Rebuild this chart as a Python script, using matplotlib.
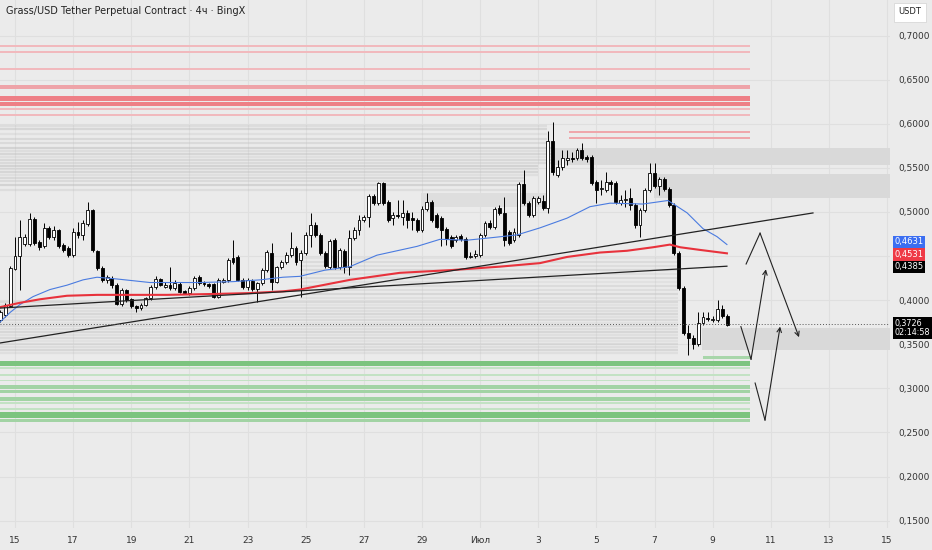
import numpy as np
import pandas as pd
import matplotlib
matplotlib.use('Agg')
import matplotlib.pyplot as plt

plt.rcParams['font.family'] = ['Liberation Sans Narrow', 'DejaVu Sans']

# 4h candles, GRASS/USDT perp, from 14 Jun 12:00
O = [.378,.383,.393,.435,.450,.464,.464,.492,.466,.461,
     .482,.472,.480,.463,.459,.451,.477,.474,.486,.502,
     .456,.437,.423,.425,.417,.396,.412,.401,.393,.391,
     .395,.403,.415,.424,.415,.417,.414,.418,.410,.408,
     .414,.426,.420,.418,.418,.404,.421,.423,.448,.449,
     .423,.415,.422,.413,.420,.434,.454,.421,.438,.443,
     .451,.459,.446,.454,.474,.485,.474,.454,.438,.468,
     .438,.456,.438,.471,.480,.491,.494,.518,.510,.533,
     .511,.493,.497,.494,.499,.493,.491,.480,.503,.511,
     .497,.493,.481,.472,.468,.473,.469,.449,.450,.451,
     .474,.488,.483,.505,.499,.477,.468,.474,.532,.510,
     .497,.511,.513,.505,.581,.542,.551,.559,.561,.561,
     .570,.562,.562,.534,.526,.525,.534,.533,.510,.514,
     .516,.508,.485,.502,.525,.544,.530,.537,.526,.508,
     .454,.414,.363,.357,.350,.374,.380,.378,.378,.390,
     .382]
H = [.389,.397,.439,.472,.491,.475,.499,.494,.468,.488,
     .484,.484,.481,.465,.461,.482,.489,.491,.511,.503,
     .457,.439,.429,.427,.420,.414,.413,.403,.395,.397,
     .404,.417,.427,.425,.421,.438,.423,.421,.412,.416,
     .427,.429,.422,.420,.420,.425,.425,.448,.468,.451,
     .425,.425,.424,.421,.437,.457,.465,.439,.446,.455,
     .477,.461,.457,.477,.499,.489,.476,.456,.469,.471,
     .459,.458,.480,.483,.497,.497,.520,.520,.534,.534,
     .514,.500,.514,.514,.502,.500,.493,.507,.522,.514,
     .499,.496,.483,.474,.474,.475,.472,.455,.457,.476,
     .490,.491,.506,.508,.517,.480,.482,.534,.548,.513,
     .518,.518,.519,.592,.602,.559,.570,.570,.568,.573,
     .578,.565,.565,.536,.536,.545,.536,.535,.519,.525,
     .527,.510,.505,.527,.556,.556,.540,.540,.528,.510,
     .456,.416,.372,.361,.386,.387,.386,.382,.400,.395,
     .384]
L = [.375,.381,.392,.434,.412,.461,.461,.463,.457,.459,
     .469,.468,.459,.455,.449,.449,.471,.468,.484,.455,
     .434,.421,.420,.414,.395,.393,.398,.391,.387,.389,
     .393,.400,.413,.416,.414,.412,.412,.408,.407,.406,
     .412,.417,.416,.414,.403,.403,.420,.421,.441,.422,
     .413,.412,.410,.398,.417,.432,.412,.420,.435,.441,
     .449,.440,.404,.451,.460,.472,.451,.437,.435,.435,
     .435,.431,.429,.468,.474,.489,.483,.508,.508,.508,
     .489,.485,.493,.485,.482,.480,.477,.477,.501,.489,
     .482,.461,.463,.459,.466,.467,.447,.448,.448,.449,
     .472,.481,.481,.497,.461,.463,.466,.472,.508,.494,
     .494,.509,.502,.499,.542,.540,.548,.553,.557,.559,
     .559,.557,.531,.510,.519,.523,.519,.509,.508,.506,
     .502,.482,.472,.500,.523,.527,.519,.524,.506,.451,
     .412,.361,.338,.345,.348,.372,.376,.375,.375,.380,
     .371]
C = [.386,.395,.437,.450,.472,.472,.492,.465,.460,.482,
     .472,.480,.461,.457,.451,.477,.474,.488,.502,.457,
     .437,.423,.426,.417,.396,.412,.400,.393,.391,.395,
     .403,.415,.424,.417,.417,.414,.420,.409,.408,.414,
     .425,.420,.418,.416,.404,.423,.423,.446,.443,.423,
     .415,.423,.413,.420,.434,.455,.421,.438,.443,.451,
     .459,.443,.454,.474,.485,.474,.454,.439,.467,.438,
     .457,.438,.471,.480,.491,.494,.518,.510,.533,.510,
     .491,.497,.496,.499,.491,.491,.480,.503,.511,.491,
     .483,.480,.471,.461,.472,.469,.449,.450,.452,.474,
     .488,.483,.503,.499,.468,.465,.477,.532,.510,.497,
     .516,.516,.505,.581,.545,.551,.561,.561,.560,.570,
     .561,.560,.533,.525,.527,.534,.532,.511,.514,.515,
     .508,.485,.502,.525,.544,.530,.537,.526,.508,.454,
     .414,.363,.357,.350,.374,.381,.379,.378,.390,.382,
     .372]

# moving averages (days from 15 Jun, price)
blue_x = [-0.52,-0.17,0.17,0.62,1.20,1.79,2.34,2.82,3.51,4.64,6.36,7.50,8.43,9.22,9.80,
          10.66,11.52,12.45,13.83,14.62,15.55,16.44,17.27,18.06,18.99,19.78,20.47,21.60,
          22.46,22.70,23.12,23.67,24.15,24.49]
blue_y = [.375,.386,.395,.404,.412,.417,.423,.426,.424,.420,.420,.421,.423,.426,.427,
          .434,.438,.451,.461,.469,.468,.471,.474,.482,.493,.506,.510,.509,
          .513,.508,.499,.481,.472,.4631]
red_x = [-0.52,0.17,0.86,1.79,2.82,5.23,6.81,8.08,9.22,9.80,11.52,13.24,14.96,16.68,
         18.06,18.99,20.12,21.05,21.95,22.53,22.88,23.56,24.49]
red_y = [.392,.397,.401,.405,.406,.406,.407,.408,.410,.412,.423,.431,.434,.438,
         .442,.449,.454,.456,.460,.463,.460,.457,.4531]

# trend lines
trend_up_x = [-0.52, 27.45]
trend_up_y = [0.3514, 0.4989]
trend_flat_x = [-0.52, 24.49]
trend_flat_y = [0.3910, 0.4385]

# supply / demand zones (top, bottom)
red_strong = [(0.6318, 0.6258), (0.6252, 0.6200)]
red_mid = [(0.6440, 0.6395)]
red_light = [(0.6895, 0.6872), (0.6823, 0.6801), (0.6630, 0.6607), (0.6180, 0.6160), (0.6112, 0.6092)]
red_short = [(0.5915, 0.5897), (0.5847, 0.5829)]
green_strong = [(0.3305, 0.3250), (0.2735, 0.2660)]
green_mid = [(0.3040, 0.2990), (0.2983, 0.2945), (0.2904, 0.2855), (0.2655, 0.2615)]
green_light = [(0.3240, 0.3222), (0.3160, 0.3144), (0.3095, 0.3079), (0.2840, 0.2826), (0.2772, 0.2758)]
green_short = [(0.3367, 0.3333)]

# liquidity stripes
heat_top = [.5975,.5941,.5884,.5828,.5782,.5726,.5692,.5658,.5624,.5590,.5556,
            .5522,.5488,.5454,.5420,.5386,.5352,.5306,.5250]
heat_top_end = [18.3,18.3,18.3,18.3,18.3,18.5,18.5,18.5,18.5,18.5,18.5,
                18.0,18.0,18.0,18.0,17.5,17.5,17.4,17.4]
heat_low = [.4478,.4433,.4388,.4342,.4297,.4252,.4206,.4161,.4116,.4070,.4025,
            .3979,.3945,.3911,.3877,.3843,.3809,.3775,.3741,.3707,.3673,.3639,
            .3605,.3571,.3537,.3503,.3469,.3435,.3401]
boxes = [(18.51, 0.5533, 0.5726), (21.98, 0.5159, 0.5431), (23.63, 0.3435, 0.3684)]

# projected path drawn on the chart
path_a = ([25.15, 25.63, 26.97], [0.441, 0.476, 0.358])
path_b = ([24.97, 25.32, 25.83], [0.370, 0.333, 0.435])
path_c = ([25.46, 25.80, 26.32], [0.306, 0.264, 0.370])

last_price = 0.3726
yticks = np.arange(0.15, 0.701, 0.05)
xtick_days = list(range(0, 31, 2))
xtick_labels = ['15','17','19','21','23','25','27','29','Июл','3','5','7','9','11','13','15']

bg = '#ebebeb'
fig = plt.figure(figsize=(9.32, 5.5), dpi=100)
fig.patch.set_facecolor(bg)
ax = fig.add_axes([0, 22/550, 890/932, 528/550])
ax.set_facecolor(bg)
x0, x1 = -0.516, 30.10
ax.set_xlim(x0, x1)
ax.set_ylim(0.1416, 0.7404)
for s in ax.spines.values():
    s.set_visible(False)

# 0,4500 sits under the indicator labels on the scale, so it is not shown
ax.set_yticks(yticks)
ax.set_yticklabels(['' if abs(v - 0.45) < 1e-6 else f'{v:.4f}'.replace('.', ',') for v in yticks])
ax.yaxis.tick_right()
ax.set_xticks(xtick_days)
ax.set_xticklabels(xtick_labels)
ax.tick_params(axis='both', length=0, labelsize=6.5, labelcolor='#333333')
ax.tick_params(axis='y', pad=6)
ax.tick_params(axis='x', pad=6)
ax.grid(color='#dfdfdf', lw=0.8)
ax.set_axisbelow(True)

zone_end = 25.28
def bands(lst, color, start=x0, end=zone_end):
    for top, bot in lst:
        ax.fill_between([start, end], bot, top, color=color, lw=0, zorder=1)

# gray stripes
alph = [0.3, 0.45, 0.25, 0.4, 0.35, 0.5]
for i, (lv, e) in enumerate(zip(heat_top, heat_top_end)):
    ax.hlines(lv, x0, e, color='#bdbdbd', lw=1.6, alpha=alph[i % 6], zorder=1)
ax.fill_between([13.97, 18.4], 0.5057, 0.5215, color='#dedede', lw=0, zorder=1)
for i, lv in enumerate(heat_low):
    st = 9.8 if lv > 0.40 else x0
    ax.hlines(lv, st, 22.8, color='#c4c4c4', lw=1.6, alpha=alph[(i + 2) % 6], zorder=1)
for st, lo, hi in boxes:
    ax.fill_between([st, x1], lo, hi, color='#d9d9d9', lw=0, zorder=1)

bands(red_light, '#f1b9bd')
bands(red_mid, '#eea3a8')
bands(red_strong, '#ee7f86')
bands(red_short, '#efa6ab', start=19.06)
bands(green_light, '#c3e2c4')
bands(green_mid, '#a2d3a4')
bands(green_strong, '#7cc47f')
bands(green_short, '#a8d6aa', start=23.66)

# candles
t = pd.date_range('2025-06-14 12:00', periods=len(C), freq='4h')
x = ((t - pd.Timestamp('2025-06-15')) / pd.Timedelta(days=1)).to_numpy()
o, h, l, c = map(np.array, (O, H, L, C))
up = c >= o
ax.vlines(x, l, h, color='black', lw=0.7, zorder=3)
body = np.maximum(np.abs(c - o), 0.0007)
ax.bar(x[up], body[up], bottom=np.minimum(o, c)[up], width=0.1,
       color='white', edgecolor='black', lw=0.6, zorder=4)
ax.bar(x[~up], body[~up], bottom=np.minimum(o, c)[~up], width=0.1,
       color='black', edgecolor='black', lw=0.6, zorder=4)

ax.plot(blue_x, blue_y, color='#4a7be0', lw=0.8, zorder=5)
ax.plot(red_x, red_y, color='#e8323c', lw=1.5, zorder=5)
ax.plot(trend_up_x, trend_up_y, color='#222222', lw=0.9, zorder=5)
ax.plot(trend_flat_x, trend_flat_y, color='#222222', lw=0.9, zorder=5)
ax.axhline(last_price, color='#555555', lw=0.7, ls=(0, (1, 2)), zorder=5)

for px, py in (path_a, path_b, path_c):
    ax.plot(px[:2], py[:2], color='#222222', lw=0.8, zorder=6)
    ax.annotate('', xy=(px[2], py[2]), xytext=(px[1], py[1]),
                arrowprops=dict(arrowstyle='->', color='#222222', lw=0.8,
                                shrinkA=0, shrinkB=0, mutation_scale=8), zorder=6)

# price labels on the scale
ytr = ax.get_yaxis_transform()
lab = dict(transform=ytr, fontsize=6, color='white', va='center', ha='left', clip_on=False, zorder=10)
ax.text(1.005, 0.4660, '0,4631', bbox=dict(boxstyle='square,pad=0.22', fc='#3b6ef2', ec='none'), **lab)
ax.text(1.005, 0.4518, '0,4531', bbox=dict(boxstyle='square,pad=0.22', fc='#ef3a46', ec='none'), **lab)
ax.text(1.005, 0.4376, '0,4385', bbox=dict(boxstyle='square,pad=0.22', fc='black', ec='none'), **lab)
ax.text(1.005, 0.3685, '0,3726\n02:14:58', linespacing=1.1, fontsize=5.8, color='white',
        va='center', ha='left', clip_on=False, zorder=10, transform=ytr,
        bbox=dict(boxstyle='square,pad=0.22', fc='black', ec='none'))

fig.text(6/932, 1 - 11/550, 'Grass/USD Tether Perpetual Contract · 4ч · BingX',
         fontsize=7, color='#222222', va='center')
fig.text(910/932, 1 - 12/550, 'USDT', fontsize=6, color='#222222', ha='center', va='center',
         bbox=dict(boxstyle='square,pad=0.6', fc='white', ec='#d8d8d8', lw=0.6))

fig.savefig('out.png', dpi=100, facecolor=bg)
